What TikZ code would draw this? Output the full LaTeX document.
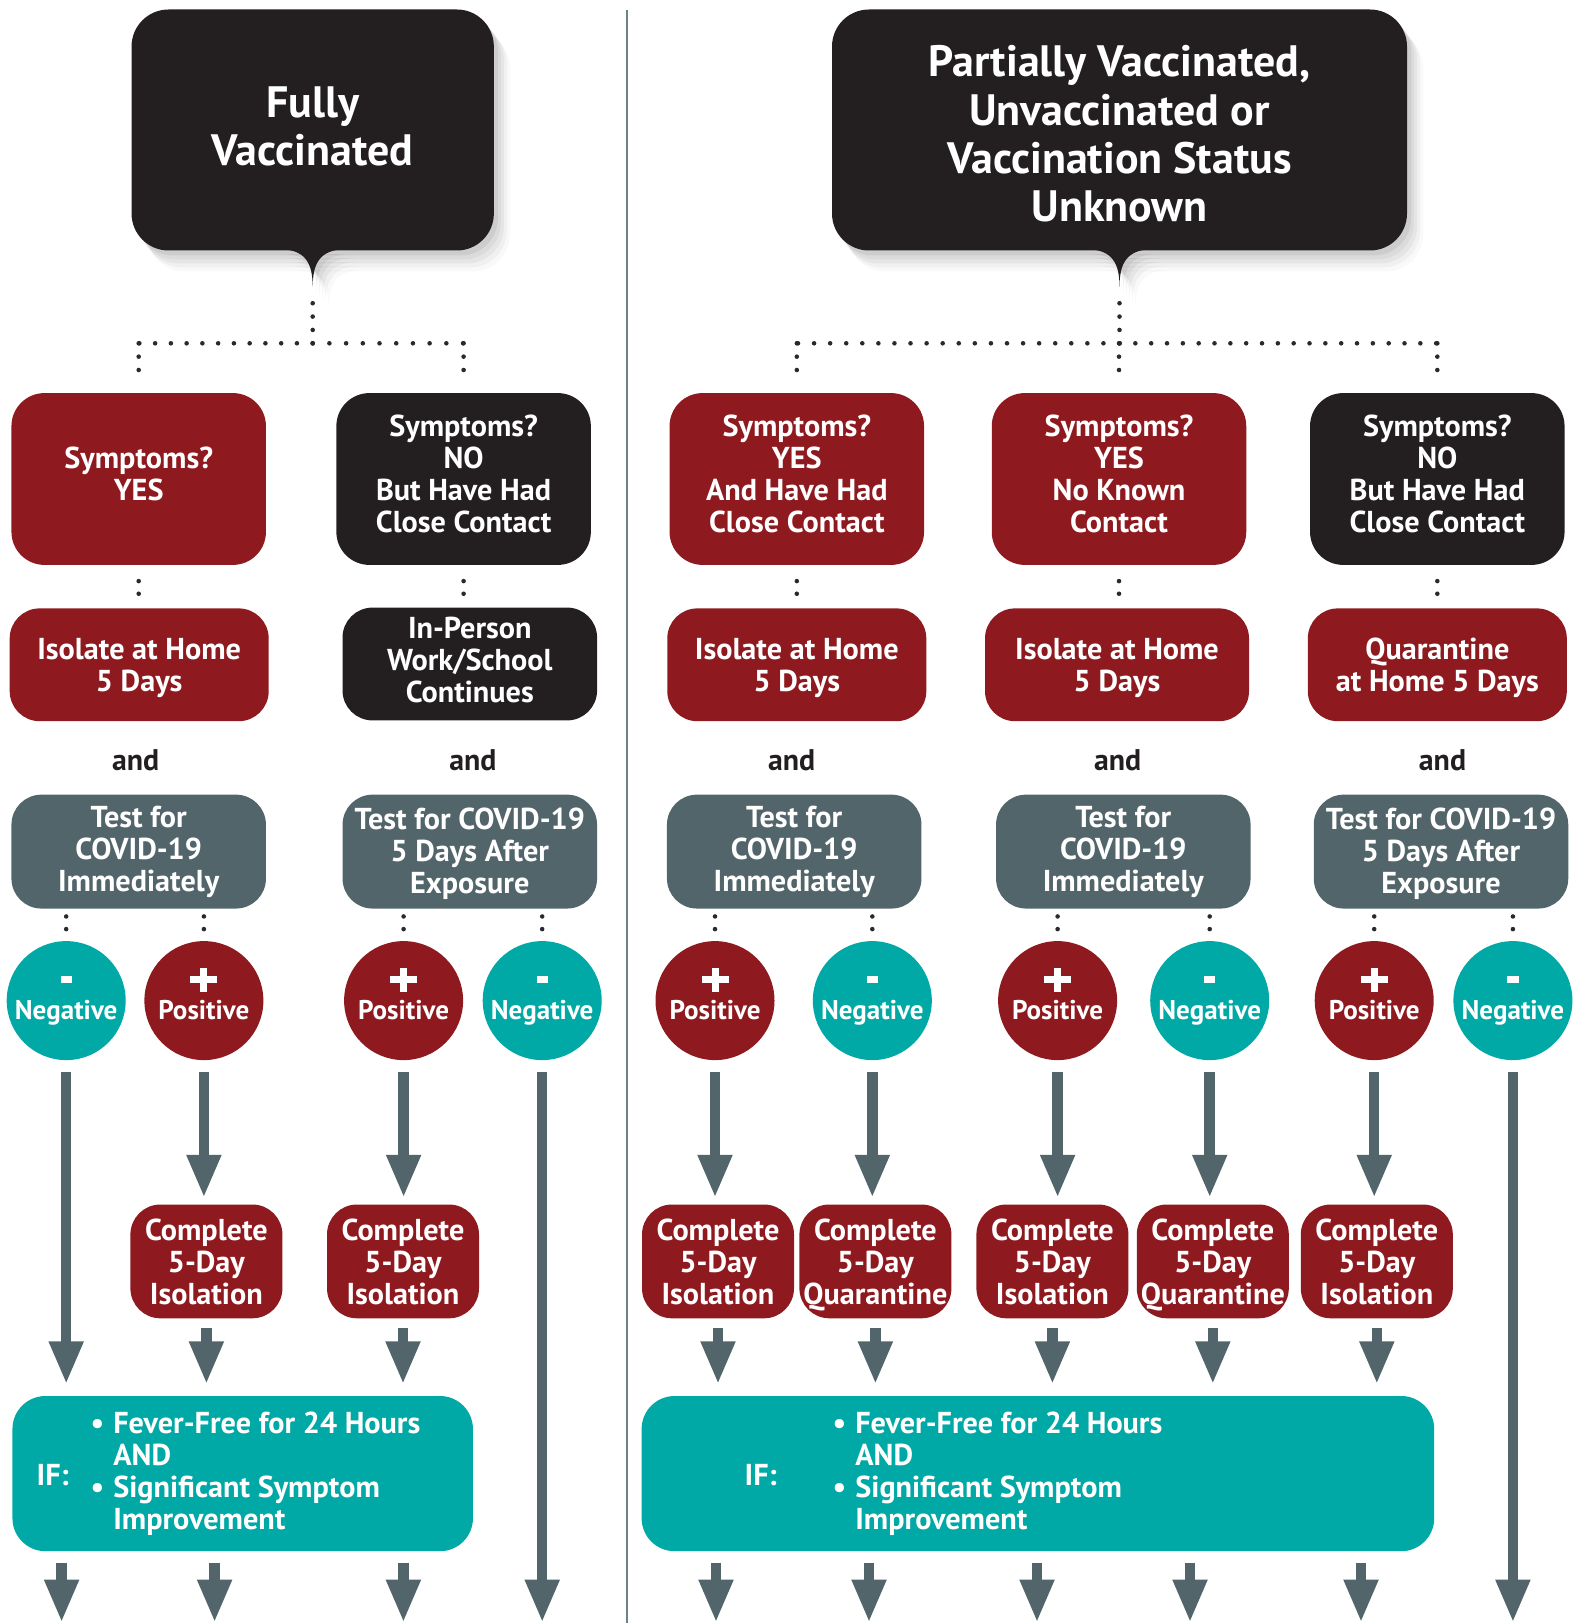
\documentclass[tikz,border=0pt]{standalone}
\usepackage{fontspec}
\setmainfont{PT Sans}
\usepackage{tikz}
\usetikzlibrary{arrows.meta,shadows,calc,positioning}
\definecolor{CdcRed}{HTML}{8E1A1F}
\definecolor{CdcBlack}{HTML}{231F20}
\definecolor{CdcGray}{HTML}{52656B}
\definecolor{CdcTeal}{HTML}{00A9A6}
\definecolor{DotInk}{HTML}{2A2930}
\definecolor{RuleGray}{HTML}{6E8088}
\tikzset{%
softshadow/.style={
  drop shadow={shadow xshift=0.04cm, shadow yshift=-0.05cm, opacity=0.06, fill=black},
  drop shadow={shadow xshift=0.07cm, shadow yshift=-0.09cm, opacity=0.05, fill=black},
  drop shadow={shadow xshift=0.10cm, shadow yshift=-0.13cm, opacity=0.045, fill=black},
  drop shadow={shadow xshift=0.13cm, shadow yshift=-0.17cm, opacity=0.035, fill=black},
  drop shadow={shadow xshift=0.16cm, shadow yshift=-0.21cm, opacity=0.025, fill=black}},
box/.style={rounded corners=0.3cm, inner sep=0pt, align=center, text=white,
  font=\bfseries\fontsize{8.6}{9.1}\selectfont},
titlebox/.style={box, fill=CdcBlack, rounded corners=0.37cm, minimum height=2.41cm,
  font=\bfseries\fontsize{12.5}{13.7}\selectfont, softshadow},
sympbox/.style={box, minimum width=2.545cm, minimum height=1.718cm, rounded corners=0.33cm, text depth=2.8pt},
actbox/.style={box, minimum width=2.59cm, minimum height=1.128cm, text depth=0pt},
testbox/.style={box, fill=CdcGray, minimum width=2.545cm, minimum height=1.139cm},
compbox/.style={box, fill=CdcRed, minimum width=1.52cm, minimum height=1.138cm, text depth=0pt},
ifbox/.style={box, fill=CdcTeal, minimum height=1.552cm, rounded corners=0.33cm},
iftxt/.style={text=white, inner sep=0pt, align=left, font=\bfseries\fontsize{8.6}{9.1}\selectfont},
andtxt/.style={text=CdcBlack, inner sep=0pt, font=\bfseries\fontsize{8.5}{10}\selectfont},
wrd/.style={text=white, inner sep=0pt, yshift=-0.094cm, text height=5.2pt, text depth=0pt,
  font=\bfseries\fontsize{7.7}{8}\selectfont},
posres/.style={circle, fill=CdcRed, minimum size=1.19cm, inner sep=0pt,
  label={[wrd]center:Positive},
  path picture={
    \fill[white] ([xshift=-0.135cm,yshift=0.172cm]path picture bounding box.center) rectangle ([xshift=0.135cm,yshift=0.242cm]path picture bounding box.center);
    \fill[white] ([xshift=-0.035cm,yshift=0.09cm]path picture bounding box.center) rectangle ([xshift=0.035cm,yshift=0.324cm]path picture bounding box.center);}},
negres/.style={circle, fill=CdcTeal, minimum size=1.19cm, inner sep=0pt,
  label={[wrd]center:Negative},
  path picture={
    \fill[white] ([xshift=-0.056cm,yshift=0.178cm]path picture bounding box.center) rectangle ([xshift=0.056cm,yshift=0.246cm]path picture bounding box.center);}},
dots/.style={DotInk, line width=1.3pt, line cap=round, dash pattern=on 0pt off 4.6pt},
vdots/.style={dots, dash pattern=on 0pt off 3.8pt},
pair/.style={dots, dash pattern=on 0pt off 3.6pt},
flow/.style={draw=CdcGray, line width=3pt, -{Triangle[length=4.3mm, width=3.2mm]}}
}

\begin{document}
\begin{tikzpicture}[y=-1cm]
\useasboundingbox (0,0) rectangle (15.75,16.23);

% divider
\draw[RuleGray, line width=0.5pt] (6.267,0.1) -- (6.267,16.23);

% title bubbles
\node[titlebox, minimum width=3.623cm, text depth=2.3pt] (fully) at (3.127,1.30) {Fully\\Vaccinated};
\fill[CdcBlack, softshadow] ($(fully.south)+(-0.34,-0.02)$) .. controls +(0.27,0) and +(0,-0.24) .. ($(fully.south)+(0,0.36)$) coordinate (ftip) .. controls +(0,-0.24) and +(-0.27,0) .. ($(fully.south)+(0.34,-0.02)$) -- cycle;
\node[titlebox, minimum width=5.75cm] (partial) at (11.195,1.30) {\rule{0pt}{11.1pt}Partially Vaccinated,\\Unvaccinated or\\Vaccination Status\\Unknown};
\fill[CdcBlack, softshadow] ($(partial.south)+(-0.34,-0.02)$) .. controls +(0.27,0) and +(0,-0.24) .. ($(partial.south)+(0,0.36)$) coordinate (ptip) .. controls +(0,-0.24) and +(-0.27,0) .. ($(partial.south)+(0.34,-0.02)$) -- cycle;

% symptoms
\node[sympbox, fill=CdcRed] (fyes) at (1.387,4.79) {Symptoms?\\YES};
\node[sympbox, fill=CdcBlack] (fno) at (4.636,4.79) {Symptoms?\\NO\\But Have Had\\Close Contact};
\node[sympbox, fill=CdcRed] (pyes1) at (7.968,4.79) {Symptoms?\\YES\\And Have Had\\Close Contact};
\node[sympbox, fill=CdcRed] (pyes2) at (11.19,4.79) {Symptoms?\\YES\\No Known\\Contact};
\node[sympbox, fill=CdcBlack] (pno) at (14.373,4.79) {Symptoms?\\NO\\But Have Had\\Close Contact};

% dotted tree
\coordinate (fbar) at (3.127,3.433);
\coordinate (pbar) at (11.195,3.433);
\draw[vdots] (fbar) -- ([yshift=-0.14cm]ftip);
\draw[dots, dash pattern=on 0pt off 4.484pt] (fbar) -- (fbar -| fyes.north);
\draw[dots, dash pattern=on 0pt off 4.753pt] (fbar) -- (fbar -| fno.north);
\draw[vdots] (fbar -| fyes.north) -- ([yshift=0.2cm]fyes.north);
\draw[vdots] (fbar -| fno.north) -- ([yshift=0.2cm]fno.north);
\draw[vdots] (pbar) -- ([yshift=-0.14cm]ptip);
\draw[dots, dash pattern=on 0pt off 4.574pt] (pbar) -- (pbar -| pyes1.north);
\draw[dots, dash pattern=on 0pt off 4.505pt] (pbar) -- (pbar -| pno.north);
\draw[vdots] (pbar -| pyes1.north) -- ([yshift=0.2cm]pyes1.north);
\draw[vdots] (pbar -| pyes2.north) -- ([yshift=0.2cm]pyes2.north);
\draw[vdots] (pbar -| pno.north) -- ([yshift=0.2cm]pno.north);

% what to do
\node[actbox, fill=CdcRed] (fiso) at (1.392,6.648) {Isolate at Home\\5 Days};
\node[actbox, fill=CdcBlack, minimum width=2.546cm, text depth=2.3pt] (fwork) at (4.698,6.64) {In-Person\\Work/School\\Continues};
\node[actbox, fill=CdcRed] (piso1) at (7.968,6.648) {Isolate at Home\\5 Days};
\node[actbox, fill=CdcRed, minimum width=2.64cm] (piso2) at (11.17,6.648) {Isolate at Home\\5 Days};
\node[actbox, fill=CdcRed] (pquar) at (14.373,6.648) {Quarantine\\at Home 5 Days};

\draw[pair] ([yshift=-0.155cm]fyes.south) -- ([yshift=0.10cm]fyes.south |- fiso.north);
\draw[pair] ([yshift=-0.155cm]fno.south) -- ([yshift=0.10cm]fno.south |- fwork.north);
\draw[pair] ([yshift=-0.155cm]pyes1.south) -- ([yshift=0.10cm]pyes1.south |- piso1.north);
\draw[pair] ([yshift=-0.155cm]pyes2.south) -- ([yshift=0.10cm]pyes2.south |- piso2.north);
\draw[pair] ([yshift=-0.155cm]pno.south) -- ([yshift=0.10cm]pno.south |- pquar.north);

\node[andtxt] (fand1) at (1.356,7.606) {and};
\node[andtxt] (fand2) at (4.729,7.606) {and};
\node[andtxt] (pand1) at (7.916,7.606) {and};
\node[andtxt] (pand2) at (11.176,7.606) {and};
\node[andtxt] (pand3) at (14.425,7.606) {and};

% tests
\node[testbox] (ftest1) at (1.387,8.516) {Test for\\COVID-19\\Immediately};
\node[testbox, text depth=0.5pt] (ftest2) at (4.698,8.516) {Test for COVID-19\\5 Days After\\Exposure};
\node[testbox] (ptest1) at (7.942,8.516) {Test for\\COVID-19\\Immediately};
\node[testbox] (ptest2) at (11.233,8.516) {Test for\\COVID-19\\Immediately};
\node[testbox, text depth=0.5pt] (ptest3) at (14.41,8.516) {Test for COVID-19\\5 Days After\\Exposure};

% results
\node[negres] (fneg1) at (0.662,10.006) {};
\node[posres] (fpos1) at (2.039,10.006) {};
\node[posres] (fpos2) at (4.036,10.006) {};
\node[negres] (fneg2) at (5.422,10.006) {};
\node[posres] (ppos1) at (7.150,10.006) {};
\node[negres] (pneg1) at (8.723,10.006) {};
\node[posres] (ppos2) at (10.576,10.006) {};
\node[negres] (pneg2) at (12.097,10.006) {};
\node[posres] (ppos3) at (13.742,10.006) {};
\node[negres] (pneg3) at (15.129,10.006) {};

\draw[pair] ([yshift=-0.072cm]ftest1.south -| fneg1.north) -- ([yshift=0.07cm]fneg1.north);
\draw[pair] ([yshift=-0.072cm]ftest1.south -| fpos1.north) -- ([yshift=0.07cm]fpos1.north);
\draw[pair] ([yshift=-0.072cm]ftest2.south -| fpos2.north) -- ([yshift=0.07cm]fpos2.north);
\draw[pair] ([yshift=-0.072cm]ftest2.south -| fneg2.north) -- ([yshift=0.07cm]fneg2.north);
\draw[pair] ([yshift=-0.072cm]ptest1.south -| ppos1.north) -- ([yshift=0.07cm]ppos1.north);
\draw[pair] ([yshift=-0.072cm]ptest1.south -| pneg1.north) -- ([yshift=0.07cm]pneg1.north);
\draw[pair] ([yshift=-0.072cm]ptest2.south -| ppos2.north) -- ([yshift=0.07cm]ppos2.north);
\draw[pair] ([yshift=-0.072cm]ptest2.south -| pneg2.north) -- ([yshift=0.07cm]pneg2.north);
\draw[pair] ([yshift=-0.072cm]ptest3.south -| ppos3.north) -- ([yshift=0.07cm]ppos3.north);
\draw[pair] ([yshift=-0.072cm]ptest3.south -| pneg3.north) -- ([yshift=0.07cm]pneg3.north);

% complete
\node[compbox] (fcomp1) at (2.064,12.614) {Complete\\5-Day\\Isolation};
\node[compbox] (fcomp2) at (4.03,12.614) {Complete\\5-Day\\Isolation};
\node[compbox] (pcomp1) at (7.18,12.614) {Complete\\5-Day\\Isolation};
\node[compbox] (pquar1) at (8.754,12.614) {Complete\\5-Day\\Quarantine};
\node[compbox] (pcomp2) at (10.524,12.614) {Complete\\5-Day\\Isolation};
\node[compbox] (pquar2) at (12.128,12.614) {Complete\\5-Day\\Quarantine};
\node[compbox] (pcomp3) at (13.768,12.614) {Complete\\5-Day\\Isolation};

% if boxes
\node[ifbox, minimum width=4.605cm] (fif) at (2.427,14.736) {};
\node[iftxt, anchor=west] (fiflbl) at (0.36,14.755) {IF:};
\node[iftxt, anchor=west] (fiflist) at (0.90,14.75) {\begin{tabular}{@{}c@{\hspace{0.09cm}}l@{}}\textbullet & Fever-Free for 24 Hours\\ & AND\\ \textbullet & Significant Symptom\\ & Improvement\end{tabular}};
\node[ifbox, minimum width=7.926cm] (pif) at (10.379,14.736) {};
\node[iftxt, anchor=west] (piflbl) at (7.44,14.755) {IF:};
\node[iftxt, anchor=west] (piflist) at (8.32,14.75) {\begin{tabular}{@{}c@{\hspace{0.09cm}}l@{}}\textbullet & Fever-Free for 24 Hours\\ & AND\\ \textbullet & Significant Symptom\\ & Improvement\end{tabular}};

% arrows
\coordinate (bot) at (0,16.226);
\draw[flow] ([yshift=-0.11cm]fneg1.south) -- ([yshift=0.11cm]fneg1.south |- fif.north);
\draw[flow] ([yshift=-0.11cm]fpos1.south) -- ([yshift=0.06cm]fpos1.south |- fcomp1.north);
\draw[flow] ([yshift=-0.11cm]fpos2.south) -- ([yshift=0.06cm]fpos2.south |- fcomp2.north);
\draw[flow] ([yshift=-0.11cm]fneg2.south) -- (fneg2.south |- bot);
\draw[flow] ([yshift=-0.11cm]ppos1.south) -- ([yshift=0.06cm]ppos1.south |- pcomp1.north);
\draw[flow] ([yshift=-0.11cm]pneg1.south) -- ([yshift=0.06cm]pneg1.south |- pquar1.north);
\draw[flow] ([yshift=-0.11cm]ppos2.south) -- ([yshift=0.06cm]ppos2.south |- pcomp2.north);
\draw[flow] ([yshift=-0.11cm]pneg2.south) -- ([yshift=0.06cm]pneg2.south |- pquar2.north);
\draw[flow] ([yshift=-0.11cm]ppos3.south) -- ([yshift=0.06cm]ppos3.south |- pcomp3.north);
\draw[flow] ([yshift=-0.11cm]pneg3.south) -- (pneg3.south |- bot);

\draw[flow] ([yshift=-0.094cm]fcomp1.south) -- ([yshift=0.11cm]fcomp1.south |- fif.north);
\draw[flow] ([yshift=-0.094cm]fcomp2.south) -- ([yshift=0.11cm]fcomp2.south |- fif.north);
\draw[flow] ([yshift=-0.094cm]pcomp1.south) -- ([yshift=0.11cm]pcomp1.south |- pif.north);
\draw[flow] ([yshift=-0.094cm]pquar1.south) -- ([yshift=0.11cm]pquar1.south |- pif.north);
\draw[flow] ([yshift=-0.094cm]pcomp2.south) -- ([yshift=0.11cm]pcomp2.south |- pif.north);
\draw[flow] ([yshift=-0.094cm]pquar2.south) -- ([yshift=0.11cm]pquar2.south |- pif.north);
\draw[flow] ([yshift=-0.094cm]pcomp3.south) -- ([yshift=0.11cm]pcomp3.south |- pif.north);

\coordinate (fe1) at (0.616,16.226);
\coordinate (fe2) at (2.146,16.226);
\coordinate (fe3) at (4.034,16.226);
\coordinate (pe1) at (7.16,16.226);
\coordinate (pe2) at (8.69,16.226);
\coordinate (pe3) at (10.37,16.226);
\coordinate (pe4) at (11.90,16.226);
\coordinate (pe5) at (13.61,16.226);
\draw[flow] ([yshift=-0.11cm]fe1 |- fif.south) -- (fe1);
\draw[flow] ([yshift=-0.11cm]fe2 |- fif.south) -- (fe2);
\draw[flow] ([yshift=-0.11cm]fe3 |- fif.south) -- (fe3);
\draw[flow] ([yshift=-0.11cm]pe1 |- pif.south) -- (pe1);
\draw[flow] ([yshift=-0.11cm]pe2 |- pif.south) -- (pe2);
\draw[flow] ([yshift=-0.11cm]pe3 |- pif.south) -- (pe3);
\draw[flow] ([yshift=-0.11cm]pe4 |- pif.south) -- (pe4);
\draw[flow] ([yshift=-0.11cm]pe5 |- pif.south) -- (pe5);

\end{tikzpicture}
\end{document}
